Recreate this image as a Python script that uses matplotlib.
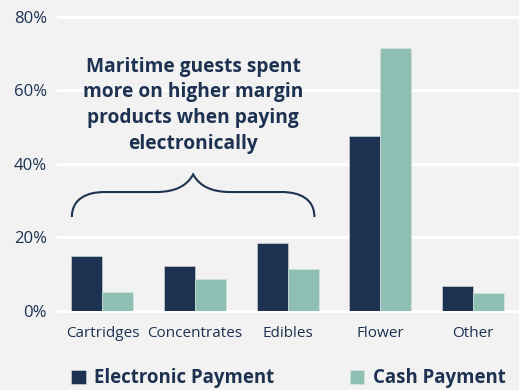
import numpy as np
import matplotlib
matplotlib.use("Agg")
import matplotlib.pyplot as plt
from matplotlib.path import Path
from matplotlib.patches import PathPatch

categories = ["Cartridges", "Concentrates", "Edibles", "Flower", "Other"]
electronic = [15.0, 12.2, 18.3, 47.5, 6.8]
cash = [5.2, 8.5, 11.3, 71.4, 4.7]
series_names = ["Electronic Payment", "Cash Payment"]
yticks = [0, 20, 40, 60, 80]
note = "Maritime guests spent\nmore on higher margin\nproducts when paying\nelectronically"

navy = "#1c3250"
mint = "#8fbfb3"
bg = "#f2f2f2"

plt.rcParams["font.family"] = ["Open Sans", "DejaVu Sans"]

fig = plt.figure(figsize=(5.19, 3.90), dpi=100, facecolor=bg)
ax = fig.add_axes([58 / 519, 0.2033, 1 - 58 / 519, 0.7537], facecolor=bg)

x = np.arange(len(categories))
w = 0.335
ax.bar(x - w / 2, electronic, w, color=navy, edgecolor="#d8dde3", linewidth=0.4, zorder=3, label=series_names[0])
ax.bar(x + w / 2, cash, w, color=mint, edgecolor="#d8e8e3", linewidth=0.4, zorder=3, label=series_names[1])

ax.set_xlim(-0.48, 4.5)
ax.set_ylim(0, 80)
ax.set_yticks(yticks)
ax.set_yticklabels([f"{v}%" for v in yticks])
ax.set_xticks(x)
ax.set_xticklabels(categories)
ax.grid(axis="y", color="white", linewidth=2.2, zorder=0)
for ln in ax.get_ygridlines():
    ln.set_clip_on(False)
for s in ax.spines.values():
    s.set_visible(False)
ax.tick_params(axis="both", length=0, colors=navy)
ax.tick_params(axis="y", pad=8, labelsize=12)
ax.tick_params(axis="x", pad=11, labelsize=11)

# annotation + curly brace
ax.text(0.98, 55.9, note, ha="center", va="center", fontsize=13.8, fontweight="bold",
        color=navy, linespacing=1.38)
x0, x1, xm = -0.33, 2.29, 0.98
yb, yf, yt = 25.5, 32.3, 37.1
verts = [(x0, yb), (x0, yf), (x0 + 0.3, yf), (x0 + 0.35, yf),
         (xm - 0.4, yf), (xm - 0.1, yf), (xm, yt),
         (xm + 0.1, yf), (xm + 0.4, yf), (x1 - 0.35, yf),
         (x1 - 0.3, yf), (x1, yf), (x1, yb)]
codes = [Path.MOVETO, Path.CURVE4, Path.CURVE4, Path.CURVE4,
         Path.LINETO, Path.CURVE3, Path.CURVE3,
         Path.CURVE3, Path.CURVE3, Path.LINETO,
         Path.CURVE4, Path.CURVE4, Path.CURVE4]
ax.add_patch(PathPatch(Path(verts, codes), facecolor="none", edgecolor=navy, linewidth=1.5, zorder=4))

leg = fig.legend(loc="center left", bbox_to_anchor=(0.137, 0.03), ncol=2, frameon=False,
                 handlelength=0.78, handleheight=0.78, handletextpad=0.45, columnspacing=4.06,
                 borderaxespad=0, borderpad=0, prop={"size": 13.4, "weight": "bold"})
for t in leg.get_texts():
    t.set_color(navy)

fig.savefig("out.png", dpi=100, facecolor=bg)
